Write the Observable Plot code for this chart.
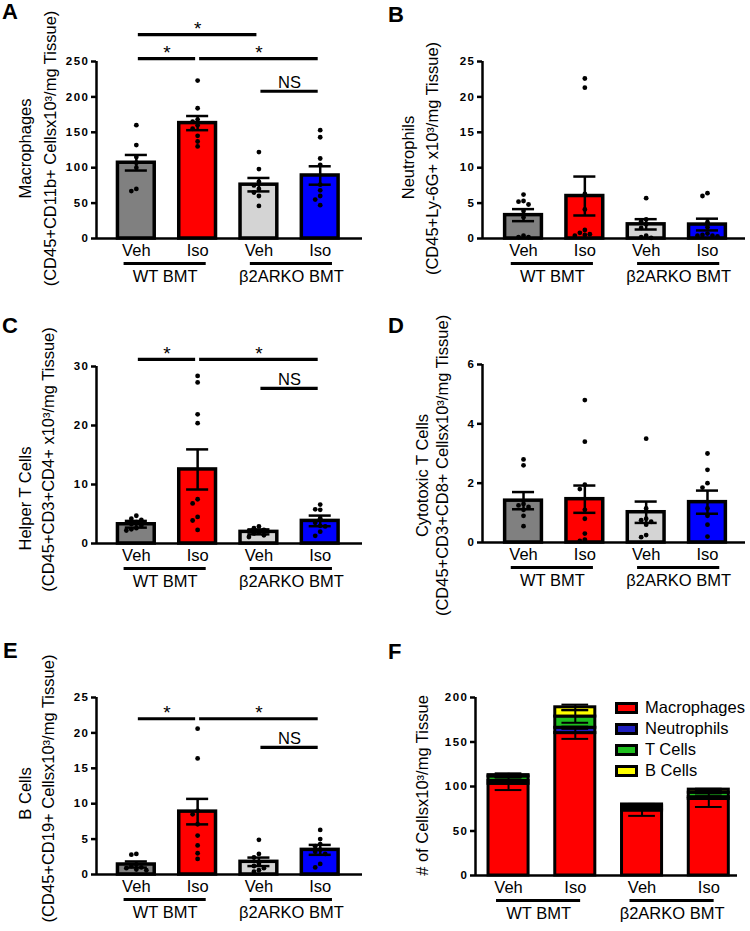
<!DOCTYPE html>
<html><head><meta charset="utf-8">
<script src="https://cdn.jsdelivr.net/npm/d3@7"></script>
<script src="https://cdn.jsdelivr.net/npm/@observablehq/plot@0.6"></script>
<style>
body{margin:0;background:#fff;font-family:"Liberation Sans",Arial,sans-serif;}
#fig{position:relative;width:750px;height:931px;overflow:hidden;background:#fff}
.panel{position:absolute}
.panel svg{overflow:visible}
.letter{position:absolute;font-weight:bold;font-size:22px;line-height:24px}
#fig svg g[aria-label="y-axis tick label"] text{font-weight:bold;letter-spacing:1.5px}
.legend{position:absolute;left:615px;top:697px;font-size:16.5px}
.legend div{height:21px;display:flex;align-items:center}
.legend span.sw{display:inline-block;width:17px;height:6px;border:3px solid #000;margin-right:7px}
</style></head><body><div id="fig"></div>
<script>
// ---------- shared categories ----------
const xCats = ["Veh", "Iso", "Veh", "Iso"];
const groupNames = ["WT BMT", "β2ARKO BMT"];
const barColors = ["#808080", "#ff0000", "#d4d4d4", "#0000ff"];

// ---------- Panel A: Macrophages ----------
const aMean = [107, 163, 76, 89];
const aSem = [11, 10, 9.5, 13];
const aPts = [
  [160, 132, 115, 107, 100, 70, 67],
  [223, 184, 168, 165, 160, 155, 145, 137, 130],
  [122, 98, 80, 75, 70, 65, 60, 46],
  [153, 143, 113, 104, 76, 68, 60, 55, 47]
];
const aSig = [
  {from: 1, to: 3, y: 288, label: "*"},
  {from: 1, to: 2, y: 254, label: "*"},
  {from: 2, to: 4, y: 254, label: "*"},
  {from: 3, to: 4, y: 208, label: "NS"}
];
const aTicks = [0, 50, 100, 150, 200, 250];

// ---------- Panel B: Neutrophils ----------
const bMean = [3.3, 6.0, 2.0, 1.97];
const bSem = [0.85, 2.75, 0.73, 0.83];
const bPts = [
  [6.2, 5.3, 5.2, 4.8, 3.9, 3.0, 0.4, 0.2, 0.2],
  [22.6, 21.3, 6.3, 4.1, 1.2, 0.8, 0.6, 0.5, 0.4],
  [5.7, 2.7, 2.4, 2.0, 1.5, 0.4, 0.2, 0.1],
  [6.4, 6.0, 2.3, 1.6, 0.7, 0.5, 0.4, 0.4, 0.3]
];
const bSig = [];
const bTicks = [0, 5, 10, 15, 20, 25];

// ---------- Panel C: Helper T cells ----------
const cMean = [3.26, 12.55, 1.97, 3.83];
const cSem = [0.57, 3.4, 0.42, 0.9];
const cPts = [
  [4.7, 4.2, 4.0, 3.6, 3.3, 3.0, 2.6, 2.4, 2.2],
  [28.4, 27.3, 21.9, 20.4, 7.5, 6.8, 4.5, 3.9, 2.3],
  [2.9, 2.6, 2.3, 2.1, 1.9, 1.7, 1.4, 1.1],
  [6.6, 5.8, 5.7, 4.3, 3.5, 3.0, 2.9, 2.0, 1.3]
];
const cSig = [
  {from: 1, to: 2, y: 31.2, label: "*"},
  {from: 2, to: 4, y: 31.2, label: "*"},
  {from: 3, to: 4, y: 26.3, label: "NS"}
];
const cTicks = [0, 10, 20, 30];

// ---------- Panel D: Cytotoxic T cells ----------
const dMean = [1.41, 1.46, 1.02, 1.36];
const dSem = [0.29, 0.46, 0.36, 0.39];
const dPts = [
  [2.8, 2.6, 1.3, 1.25, 1.2, 1.1, 0.9, 0.55],
  [4.8, 3.4, 1.95, 1.8, 1.1, 0.8, 0.3, 0.1, 0.05],
  [3.5, 1.15, 0.8, 0.75, 0.7, 0.6, 0.25, 0.18],
  [3.0, 2.45, 2.0, 1.85, 1.15, 0.9, 0.6, 0.2]
];
const dSig = [];
const dTicks = [0, 2, 4, 6];

// ---------- Panel E: B cells ----------
const eMean = [1.41, 8.88, 1.79, 3.48];
const eSem = [0.43, 1.8, 0.6, 0.7];
const ePts = [
  [2.9, 2.8, 1.4, 1.2, 1.0, 0.9, 0.7, 0.6],
  [20.6, 16.4, 9.0, 8.5, 7.1, 5.5, 4.1, 3.0, 2.2],
  [4.9, 2.9, 2.4, 1.5, 1.2, 0.9, 0.6, 0.4],
  [6.3, 5.0, 4.3, 4.0, 3.5, 3.2, 2.9, 1.5, 1.0]
];
const eSig = [
  {from: 1, to: 2, y: 22.0, label: "*"},
  {from: 2, to: 4, y: 22.0, label: "*"},
  {from: 3, to: 4, y: 17.95, label: "NS"}
];
const eTicks = [0, 5, 10, 15, 20, 25];

// ---------- Panel F: stacked totals ----------
const cellTypes = ["Macrophages", "Neutrophils", "T Cells", "B Cells"];
const cellColors = ["#ff0000", "#1f1fbf", "#1fbf1f", "#ffff00"];
const fMacro = [103, 160, 73, 86];
const fMacroSem = [7, 6.5, 6, 9];
const fNeut = [3.3, 6, 2, 2];
const fNeutSem = [0.8, 1.2, 0.7, 0.9];
const fTcell = [5, 12.6, 3, 5];
const fTcellSem = [0.6, 7, 0.4, 0.8];
const fBcell = [1.5, 10.4, 1.8, 3.5];
const fBcellSem = [2, 3, 0.6, 1];
const fTicks = [0, 50, 100, 150, 200];

// ---------- helpers ----------
const FONT = "Liberation Sans, Arial, sans-serif";
function dodge(vals, pxY, pxX) {
  const placed = [];
  return vals.map(v => {
    const py = v * pxY;
    for (const o of [0, -5, 5, -10, 10, -15, 15, -20, 20]) {
      if (placed.every(p => Math.hypot(p[0] - o, p[1] - py) >= 4.8)) {
        placed.push([o, py]);
        return o / pxX;
      }
    }
    return 0;
  });
}

function commonMarks(c) {
  const groups = groupNames.map((g, k) => ({g, cx: c.groupCenters[k]}));
  const rot = {frameAnchor: "left", rotate: -90, textAnchor: "middle", lineAnchor: "middle", fontSize: 16.5, text: d => d};
  return [
    Plot.axisY({ticks: c.yticks, tickSize: 5, tickPadding: 2, strokeWidth: 2.5, fontSize: 11.5, fontWeight: "bold", tickFormat: d => String(d), label: null}),
    Plot.text(xCats, {x: (d, i) => i + 1, y: 0, dy: 12, text: d => d, fontSize: 16.5, lineAnchor: "middle"}),
    Plot.ruleY(groups, {x1: d => d.cx - c.gHalf, x2: d => d.cx + c.gHalf, y: 0, dy: 25, strokeWidth: 3.2}),
    Plot.text(groups, {x: "cx", y: 0, dy: 38, text: "g", fontSize: 16.5, lineAnchor: "middle"}),
    Plot.text([c.label], {...rot, dx: c.labelDx, dy: c.labelDy}),
    ...(c.sub ? [Plot.text([c.sub], {...rot, dx: c.subDx, dy: c.subDy})] : [])
  ];
}

function axisLines(c) {
  return [
    Plot.ruleY([0], {strokeWidth: 2.5}),
    Plot.ruleX([c.xDomain[0]], {y1: 0, y2: c.ymax, strokeWidth: 2.5})
  ];
}

function barPanel(c) {
  const fw = c.width - c.ml - c.mr, fh = c.height - c.mt - c.mb;
  const pxX = fw / (c.xDomain[1] - c.xDomain[0]);
  const pxY = fh / c.ymax;
  const bars = c.mean.map((m, i) => ({pos: i + 1, m, s: c.sem[i], fill: barColors[i]}));
  const dots = c.pts.flatMap((arr, i) => {
    const offs = dodge(arr, pxY, pxX);
    return arr.map((v, j) => ({pos: i + 1 + offs[j], v}));
  });
  const bw = 0.3, cap = 0.18;
  const stars = c.sig.filter(d => d.label === "*");
  const ns = c.sig.filter(d => d.label !== "*");
  return Plot.plot({
    width: c.width, height: c.height,
    marginLeft: c.ml, marginRight: c.mr, marginTop: c.mt, marginBottom: c.mb,
    x: {domain: c.xDomain, axis: null},
    y: {domain: [0, c.ymax], axis: null},
    color: {type: "identity"},
    style: {fontFamily: FONT, background: "transparent", overflow: "visible", maxWidth: "none"},
    marks: [
      Plot.rectY(bars, {x1: d => d.pos - bw, x2: d => d.pos + bw, y1: 0, y2: "m", fill: "fill", stroke: "black", strokeWidth: 3.5}),
      ...axisLines(c),
      Plot.dot(dots, {x: "pos", y: "v", r: 2.4, fill: "black", stroke: null}),
      Plot.ruleX(bars, {x: "pos", y1: d => d.m - d.s, y2: d => d.m + d.s, strokeWidth: 2.5}),
      Plot.ruleY(bars, {x1: d => d.pos - cap, x2: d => d.pos + cap, y: d => d.m + d.s, strokeWidth: 2.5}),
      Plot.ruleY(bars, {x1: d => d.pos - cap, x2: d => d.pos + cap, y: d => d.m - d.s, strokeWidth: 2.5}),
      Plot.ruleY(c.sig, {x1: "from", x2: "to", y: "y", strokeWidth: 3.2, insetLeft: 2, insetRight: 2}),
      Plot.text(stars, {x: d => (d.from + d.to) / 2, y: "y", text: "label", dy: -6, fontSize: 19, lineAnchor: "middle"}),
      Plot.text(ns, {x: d => (d.from + d.to) / 2, y: "y", text: "label", dy: -9, fontSize: 16.5, lineAnchor: "middle"}),
      ...commonMarks(c)
    ]
  });
}

function stackPanel(c) {
  const series = [[fMacro, fMacroSem], [fNeut, fNeutSem], [fTcell, fTcellSem], [fBcell, fBcellSem]];
  const rows = [];
  for (let i = 0; i < 4; i++) {
    let base = 0;
    series.forEach(([vals, sems], k) => {
      rows.push({pos: i + 1, y1: base, y2: base + vals[i], sem: sems[i], fill: cellColors[k]});
      base += vals[i];
    });
  }
  const bw = 0.3, cap = 0.2;
  return Plot.plot({
    width: c.width, height: c.height,
    marginLeft: c.ml, marginRight: c.mr, marginTop: c.mt, marginBottom: c.mb,
    x: {domain: c.xDomain, axis: null},
    y: {domain: [0, c.ymax], axis: null},
    color: {type: "identity"},
    style: {fontFamily: FONT, background: "transparent", overflow: "visible", maxWidth: "none"},
    marks: [
      Plot.rectY(rows, {x1: d => d.pos - bw, x2: d => d.pos + bw, y1: "y1", y2: "y2", fill: "fill", stroke: "black", strokeWidth: 3}),
      ...axisLines(c),
      Plot.ruleX(rows, {x: "pos", y1: d => d.y2 - d.sem, y2: d => d.y2 + d.sem, strokeWidth: 2}),
      Plot.ruleY(rows, {x1: d => d.pos - cap, x2: d => d.pos + cap, y: d => d.y2 - d.sem, strokeWidth: 2}),
      Plot.ruleY(rows, {x1: d => d.pos - cap, x2: d => d.pos + cap, y: d => d.y2 + d.sem, strokeWidth: 2}),
      ...commonMarks(c)
    ]
  });
}

const fig = document.getElementById("fig");
function place(node, left, top, w, h) {
  const div = document.createElement("div");
  div.className = "panel";
  div.style.left = left + "px"; div.style.top = top + "px";
  div.style.width = w + "px"; div.style.height = h + "px";
  div.appendChild(node);
  fig.appendChild(div);
}
const xDomL = [0.35, 4.69], xDomR = [0.331, 4.62];
const gcL = [1.47, 3.53];

place(barPanel({width: 375, height: 300, ml: 96, mr: 13, mt: 61, mb: 62, xDomain: xDomL, ymax: 250, yticks: aTicks,
  mean: aMean, sem: aSem, pts: aPts, sig: aSig, groupCenters: gcL, gHalf: 0.67,
  label: "Macrophages", sub: "(CD45+CD11b+ Cellsx10³/mg Tissue)", labelDx: -71, labelDy: -1.5, subDx: -46, subDy: -1.5}), 0, 0, 375, 300);
place(barPanel({width: 375, height: 300, ml: 107, mr: 5, mt: 61, mb: 62, xDomain: xDomR, ymax: 25, yticks: bTicks,
  mean: bMean, sem: bSem, pts: bPts, sig: bSig, groupCenters: gcL, gHalf: 0.67,
  label: "Neutrophils", sub: "(CD45+Ly-6G+ x10³/mg Tissue)", labelDx: -74, labelDy: 7.5, subDx: -50, subDy: 8.5}), 375, 0, 375, 300);
place(barPanel({width: 375, height: 310, ml: 96, mr: 13, mt: 66, mb: 67, xDomain: xDomL, ymax: 30, yticks: cTicks,
  mean: cMean, sem: cSem, pts: cPts, sig: cSig, groupCenters: gcL, gHalf: 0.67,
  label: "Helper T Cells", sub: "(CD45+CD3+CD4+ x10³/mg Tissue)", labelDx: -71, labelDy: 43.5, subDx: -48, subDy: 4.5}), 0, 300, 375, 310);
place(barPanel({width: 375, height: 310, ml: 107, mr: 5, mt: 64, mb: 68, xDomain: xDomR, ymax: 6, yticks: dTicks,
  mean: dMean, sem: dSem, pts: dPts, sig: dSig, groupCenters: gcL, gHalf: 0.67,
  label: "Cytotoxic T Cells", sub: "(CD45+CD3+CD8+ Cellsx10³/mg Tissue)", labelDx: -60, labelDy: 22, subDx: -40, subDy: 12}), 375, 300, 375, 310);
place(barPanel({width: 375, height: 321, ml: 96, mr: 13, mt: 87, mb: 57, xDomain: xDomL, ymax: 25, yticks: eTicks,
  mean: eMean, sem: eSem, pts: ePts, sig: eSig, groupCenters: gcL, gHalf: 0.67,
  label: "B Cells", sub: "(CD45+CD19+ Cellsx10³/mg Tissue)", labelDx: -71, labelDy: 7.5, subDx: -48, subDy: 2.5}), 0, 610, 375, 321);
place(stackPanel({width: 375, height: 321, ml: 100, mr: 13, mt: 87, mb: 56, xDomain: [0.505, 4.43], ymax: 200, yticks: fTicks,
  groupCenters: [1.45, 3.45], gHalf: 0.63,
  label: "# of Cellsx10³/mg Tissue", sub: null, labelDx: -53, labelDy: -1}), 375, 610, 375, 321);

// panel letters
[["A", 2, 0], ["B", 388, 3], ["C", 2, 314], ["D", 388, 314], ["E", 3, 639], ["F", 388, 640]].forEach(([t, x, y]) => {
  const d = document.createElement("div");
  d.className = "letter"; d.textContent = t;
  d.style.left = x + "px"; d.style.top = y + "px";
  fig.appendChild(d);
});

// legend for F
const leg = document.createElement("div");
leg.className = "legend";
cellTypes.forEach((t, k) => {
  const row = document.createElement("div");
  const sw = document.createElement("span");
  sw.className = "sw"; sw.style.background = cellColors[k];
  row.appendChild(sw);
  row.appendChild(document.createTextNode(t));
  leg.appendChild(row);
});
fig.appendChild(leg);
</script>
</body></html>
